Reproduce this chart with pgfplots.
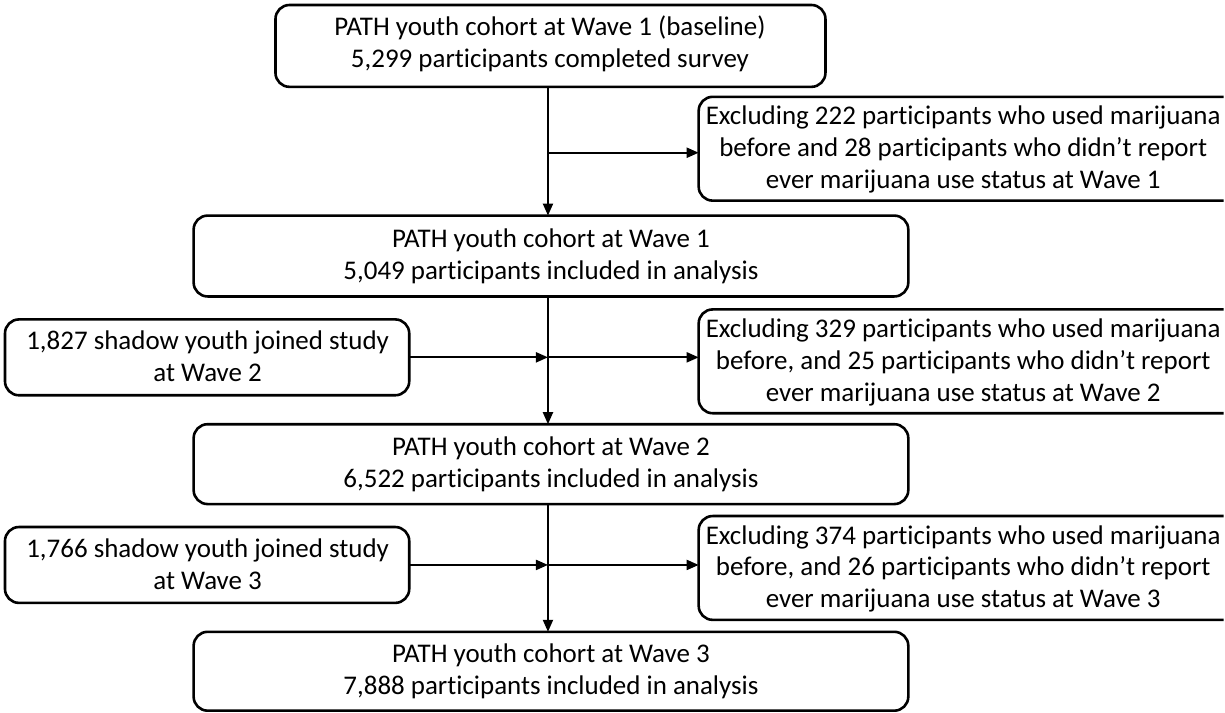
\documentclass[border=0pt]{standalone}
\usepackage{fontspec}
\setmainfont[Ligatures=NoCommon]{Carlito}
\usepackage{pgfplots}
\pgfplotsset{compat=1.18}
\usetikzlibrary{arrows.meta}
\tikzset{
  box/.style={draw, line width=1.3pt, rounded corners=7pt},
  txt/.style={align=center, font=\fontsize{13.5}{16}\selectfont, inner sep=0pt},
  arr/.style={line width=1pt, -{Triangle[length=6pt,width=5pt]}},
}
\begin{document}
\begin{tikzpicture}
\begin{axis}[scale only axis, width=612.5pt, height=357pt,
  xmin=0, xmax=1225, ymin=0, ymax=714, y dir=reverse,
  hide axis, clip=false]
\path (0,0) rectangle (1225,714);
% boxes
\draw[box] (276,5) rectangle (827,87);
\draw[box] (1226,97) -- (700,97) -- (700,201) -- (1226,201);
\draw[box] (194,216) rectangle (910,297);
\draw[box] (5,320) rectangle (410,396);
\draw[box] (1226,310) -- (700,310) -- (700,414) -- (1226,414);
\draw[box] (194,425) rectangle (910,505);
\draw[box] (5,528) rectangle (410,604);
\draw[box] (1226,517) -- (700,517) -- (700,621) -- (1226,621);
\draw[box] (194,633) rectangle (910,712);
% texts
\node[txt] at (551,44) {PATH youth cohort at Wave 1 (baseline)\\5,299 participants completed survey};
\node[txt] at (965,150) {Excluding 222 participants who used marijuana\\before and 28 participants who didn’t report\\ever marijuana use status at Wave 1};
\node[txt] at (552,257) {PATH youth cohort at Wave 1\\5,049 participants included in analysis};
\node[txt] at (208,357) {1,827 shadow youth joined study\\at Wave 2};
\node[txt] at (965,363) {Excluding 329 participants who used marijuana\\before, and 25 participants who didn’t report\\ever marijuana use status at Wave 2};
\node[txt] at (552,465) {PATH youth cohort at Wave 2\\6,522 participants included in analysis};
\node[txt] at (208,565) {1,766 shadow youth joined study\\at Wave 3};
\node[txt] at (965,570) {Excluding 374 participants who used marijuana\\before, and 26 participants who didn’t report\\ever marijuana use status at Wave 3};
\node[txt] at (552,673) {PATH youth cohort at Wave 3\\7,888 participants included in analysis};
% arrows
\draw[arr] (549,87) -- (549,216);
\draw[arr] (549,153) -- (700,153);
\draw[arr] (549,297) -- (549,425);
\draw[arr] (410,358) -- (549,358);
\draw[arr] (549,358) -- (700,358);
\draw[arr] (549,505) -- (549,633);
\draw[arr] (410,566) -- (549,566);
\draw[arr] (549,566) -- (700,566);
\end{axis}
\end{tikzpicture}
\end{document}
